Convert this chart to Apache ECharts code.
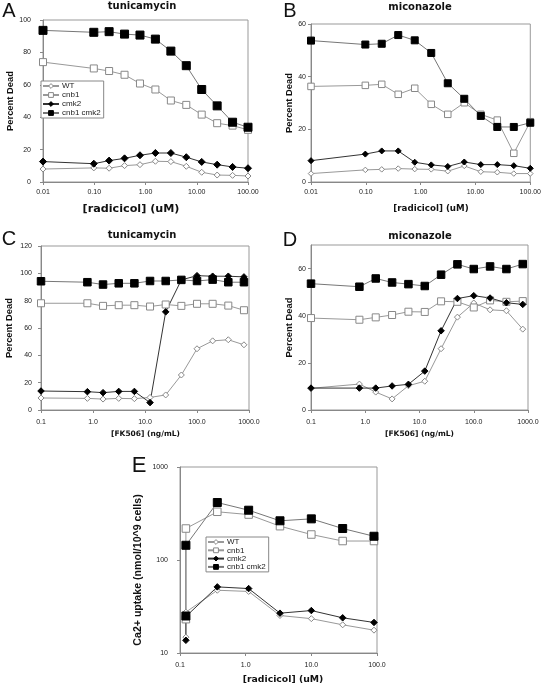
<!DOCTYPE html>
<html>
<head>
<meta charset="utf-8">
<script src="https://cdn.jsdelivr.net/npm/echarts@6/dist/echarts.min.js"></script>
<style>
html,body{margin:0;padding:0;background:#fff;}
#chart{width:544px;height:685px;}
</style>
</head>
<body>
<div id="chart"></div>
<script>
// ---------- DATA ----------
const seriesNames = ['WT', 'cnb1', 'cmk2', 'cnb1 cmk2'];

// Panel A & B: radicicol (uM)
const radicicolAB = [0.01, 0.098, 0.195, 0.39, 0.78, 1.56, 3.125, 6.25, 12.5, 25, 50, 100];
const A_WT   = [8, 8.7, 8.5, 10.1, 10.7, 12.8, 12.6, 9.7, 6, 4.3, 4.1, 3.7];
const A_cnb1 = [74, 70.1, 68.5, 66.2, 60.8, 57.1, 50.3, 47.6, 41.6, 36.3, 34.8, 32.2];
const A_cmk2 = [12.6, 11.3, 13.2, 14.6, 16.5, 17.9, 17.9, 15.3, 12.4, 10.7, 9.3, 8.5];
const A_cnb1cmk2 = [93.6, 92.4, 92.8, 91.3, 90.7, 88.2, 80.8, 71.8, 57.1, 47, 36.9, 33.8];

const B_WT   = [3.2, 4.6, 4.8, 5.1, 4.9, 4.8, 4.1, 6.1, 3.9, 3.7, 3.2, 3.2];
const B_cnb1 = [36.3, 36.7, 37.1, 33.3, 35.6, 29.5, 25.7, 30.1, 25.7, 23.5, 10.9, 22.9];
const B_cmk2 = [8.1, 10.6, 11.8, 11.8, 7.5, 6.5, 5.9, 7.6, 6.6, 6.6, 6.2, 5.2];
const B_cnb1cmk2 = [53.7, 52.2, 52.5, 55.8, 53.8, 49, 37.5, 31.6, 25.1, 20.9, 20.9, 22.5];

// Panel C & D: FK506 (ng/mL)
const fk506CD = [0.1, 0.78, 1.56, 3.125, 6.25, 12.5, 25, 50, 100, 200, 400, 800];
const C_WT   = [8.8, 8.5, 8, 8.5, 8.3, 9.2, 11, 25.6, 44.8, 50.6, 51.4, 47.7];
const C_cnb1 = [78.1, 78.1, 76.2, 76.7, 76.7, 75.7, 77.2, 76.2, 77.7, 77.7, 76.4, 73];
const C_cmk2 = [13.9, 13.4, 12.7, 13.6, 13.6, 5.4, 71.8, 95.2, 98.3, 97.9, 97.9, 97.4];
const C_cnb1cmk2 = [94.2, 93.5, 91.8, 92.7, 92.7, 94.4, 94.4, 95.2, 94.4, 95.4, 93.5, 93.5];

const D_WT   = [9.2, 11, 7.6, 4.7, 10.3, 12.2, 26, 39.4, 45.4, 42.5, 42.1, 34.3];
const D_cnb1 = [39, 38.3, 39.3, 40.3, 41.7, 41.6, 46.1, 45.9, 43.5, 46.5, 45.9, 46.2];
const D_cmk2 = [9.3, 9.3, 9.3, 10.2, 10.9, 16.5, 33.6, 47.3, 48.5, 47.5, 45.5, 44.8];
const D_cnb1cmk2 = [53.6, 52.3, 55.8, 54.1, 53.4, 52.6, 57.4, 61.8, 59.8, 60.9, 59.8, 61.9];

// Panel E: radicicol (uM), Ca2+ uptake
const radicicolE = [0.123, 0.123, 0.37, 1.11, 3.33, 10, 30, 90];
const E_WT   = [14.8, 27.5, 47.3, 45.9, 25.3, 23.4, 20.1, 17.6];
const E_cnb1 = [23.1, 218, 330, 308, 231, 188, 160, 160];
const E_cmk2 = [13.7, 24.7, 51.4, 49.3, 26.8, 28.6, 23.9, 21.3];
const E_cnb1cmk2 = [25, 144, 415, 343, 264, 277, 218, 180];

// Tick labels
const yTicksA = [0, 20, 40, 60, 80, 100];
const yTicksB = [0, 20, 40, 60];
const yTicksC = [0, 20, 40, 60, 80, 100, 120];
const yTicksD = [0, 20, 40, 60];

// ---------- STYLE ----------
const SANS = 'Liberation Sans';
const WIDE = 'DejaVu Sans';
const styleFor = {
  'WT':        {symbol: 'diamond', fill: '#fff', border: '#888', line: '#999'},
  'cnb1':      {symbol: 'rect',    fill: '#fff', border: '#888', line: '#999'},
  'cmk2':      {symbol: 'diamond', fill: '#000', border: '#000', line: '#333'},
  'cnb1 cmk2': {symbol: 'rect',    fill: '#000', border: '#000', line: '#777'}
};

function mkSeries(idx, name, xs, ys, size) {
  const st = styleFor[name];
  return {
    type: 'line', name: name, xAxisIndex: idx, yAxisIndex: idx,
    data: xs.map((x, i) => [x, ys[i]]),
    symbol: st.symbol, symbolSize: size, showAllSymbol: true,
    clip: false, animation: false,
    lineStyle: {color: st.line, width: 1},
    itemStyle: {color: st.fill, borderColor: st.border, borderWidth: 1},
    emphasis: {disabled: true}
  };
}

function xAxis(idx, min, max, digits, margin) {
  return {
    type: 'log', logBase: 10, gridIndex: idx, min: min, max: max,
    axisLine: {show: true, lineStyle: {color: '#888', width: 1}},
    axisTick: {show: true, length: 3, inside: false, lineStyle: {color: '#888'}},
    minorTick: {show: false}, splitLine: {show: false},
    axisLabel: {fontFamily: SANS, fontSize: 7, color: '#222', margin: margin,
      showMinLabel: true, showMaxLabel: true,
      formatter: v => Number(v).toFixed(digits)}
  };
}

function yAxis(idx, max, ticks, nameGap, margin) {
  return {
    type: 'value', gridIndex: idx, min: 0, max: max, interval: 20,
    axisLine: {show: true, lineStyle: {color: '#888', width: 1}},
    axisTick: {show: true, length: 3, inside: false, lineStyle: {color: '#888'}, customValues: ticks},
    splitLine: {show: false},
    axisLabel: {fontFamily: SANS, fontSize: 7, color: '#222', margin: margin, customValues: ticks,
      formatter: v => (ticks.indexOf(v) >= 0 ? String(v) : '')},
    name: 'Percent Dead', nameLocation: 'middle', nameGap: nameGap, nameRotate: 90,
    nameTextStyle: {fontFamily: SANS, fontWeight: 'bold', fontSize: 9.4, color: '#111'}
  };
}

const gridBase = {show: true, borderColor: '#999', borderWidth: 1, backgroundColor: 'transparent', containLabel: false};

const series = [];
const panels = [
  [0, radicicolAB, [A_WT, A_cnb1, A_cmk2, A_cnb1cmk2], [6, 7, 7, 8]],
  [1, radicicolAB, [B_WT, B_cnb1, B_cmk2, B_cnb1cmk2], [5.5, 6.5, 6, 7]],
  [2, fk506CD, [C_WT, C_cnb1, C_cmk2, C_cnb1cmk2], [6, 7, 6.5, 7.5]],
  [3, fk506CD, [D_WT, D_cnb1, D_cmk2, D_cnb1cmk2], [6, 7, 6.5, 7.5]],
  [4, radicicolE, [E_WT, E_cnb1, E_cmk2, E_cnb1cmk2], [6, 7.5, 6.5, 8]]
];
panels.forEach(p => {
  seriesNames.forEach((n, k) => series.push(mkSeries(p[0], n, p[1], p[2][k], p[3][k])));
});

const legendBase = {
  data: seriesNames, orient: 'vertical', itemWidth: 16, itemHeight: 6,
  padding: [1, 3, 1, 1], borderColor: '#888', borderWidth: 1, backgroundColor: '#fff',
  selectedMode: false, itemStyle: {borderWidth: 1},
  textStyle: {fontFamily: SANS, fontSize: 8, color: '#222', padding: [0, 0, 0, -2]}
};

function txt(text, x, y, size, weight, family, rot) {
  return {type: 'text', x: x, y: y, rotation: rot || 0, silent: true,
    style: {text: text, fontSize: size, fontWeight: weight, fontFamily: family,
      fill: '#111', align: 'center', verticalAlign: 'middle'}};
}

const option = {
  backgroundColor: '#fff',
  animation: false,
  grid: [
    Object.assign({left: 43, top: 20, width: 205, height: 162}, gridBase),
    Object.assign({left: 311, top: 24, width: 222, height: 158}, gridBase),
    Object.assign({left: 41, top: 246, width: 208, height: 164}, gridBase),
    Object.assign({left: 311, top: 245, width: 217, height: 165}, gridBase),
    Object.assign({left: 180, top: 467, width: 197, height: 186}, gridBase)
  ],
  xAxis: [
    xAxis(0, 0.01, 100, 2, 7),
    xAxis(1, 0.01, 100, 2, 7),
    xAxis(2, 0.1, 1000, 1, 9),
    xAxis(3, 0.1, 1000, 1, 9),
    xAxis(4, 0.1, 100, 1, 9)
  ],
  yAxis: [
    yAxis(0, 100, yTicksA, 28, 12),
    yAxis(1, 60, yTicksB, 13, 5),
    yAxis(2, 120, yTicksC, 27, 9),
    yAxis(3, 70, yTicksD, 13, 5),
    {
      type: 'log', logBase: 10, gridIndex: 4, min: 10, max: 1000,
      axisLine: {show: true, lineStyle: {color: '#888', width: 1}},
      axisTick: {show: true, length: 3, lineStyle: {color: '#888'}},
      minorTick: {show: false}, splitLine: {show: false},
      axisLabel: {fontFamily: SANS, fontSize: 7, color: '#222', margin: 12,
        formatter: v => String(Math.round(v))}
    }
  ],
  legend: [
    Object.assign({left: 41, top: 81, itemGap: 1}, legendBase),
    Object.assign({left: 206, top: 537, itemGap: 0.3}, legendBase)
  ],
  graphic: [
    txt('A', 9, 11, 20, 'normal', SANS),
    txt('B', 290, 11, 20, 'normal', SANS),
    txt('C', 9, 239, 20, 'normal', SANS),
    txt('D', 290, 240, 20, 'normal', SANS),
    txt('E', 139, 466, 22, 'normal', SANS),
    txt('tunicamycin', 142, 6, 10, 'bold', WIDE),
    txt('miconazole', 420, 7, 10, 'bold', WIDE),
    txt('tunicamycin', 142, 235, 10, 'bold', WIDE),
    txt('miconazole', 420, 236, 10, 'bold', WIDE),
    txt('[radicicol] (uM)', 131, 209, 11.2, 'bold', WIDE),
    txt('[radicicol] (uM)', 431, 209, 8.7, 'bold', WIDE),
    txt('[FK506] (ng/mL)', 145.5, 434, 7.5, 'bold', WIDE),
    txt('[FK506] (ng/mL)', 419.5, 434, 7.5, 'bold', WIDE),
    txt('[radicicol] (uM)', 283, 680, 9.3, 'bold', WIDE),
    txt('Ca2+ uptake (nmol/10^9 cells)', 138, 570, 10.6, 'bold', SANS, Math.PI / 2)
  ],
  series: series
};

const chart = echarts.init(document.getElementById('chart'), null, {renderer: 'canvas'});
chart.setOption(option);
</script>
</body>
</html>
